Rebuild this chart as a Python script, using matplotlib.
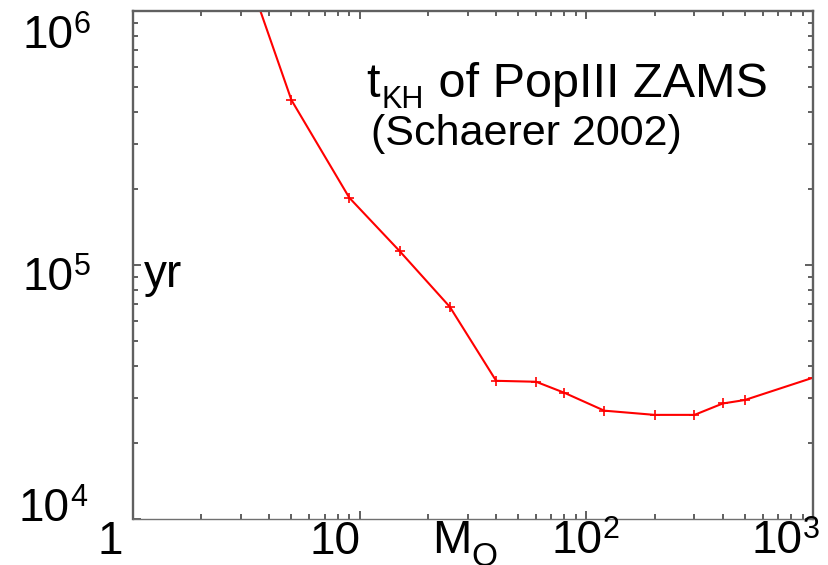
import matplotlib
matplotlib.use("Agg")
import matplotlib.pyplot as plt

plt.rcParams['font.family'] = ['Liberation Sans', 'DejaVu Sans']

# Kelvin-Helmholtz time of Pop III ZAMS stars (Schaerer 2002)
mass = [3, 5, 9, 15, 25, 40, 60, 80, 120, 200, 300, 400, 500, 1000]
t_kh = [1.65e6, 4.46e5, 1.84e5, 1.135e5, 6.84e4, 3.50e4, 3.47e4, 3.14e4,
        2.67e4, 2.57e4, 2.57e4, 2.85e4, 2.94e4, 3.60e4]

W, H = 829, 565
fig = plt.figure(figsize=(W / 100, H / 100), dpi=100)
ax = fig.add_axes([133 / W, 1 - 519 / H, 680 / W, 508 / H])

ax.plot(mass, t_kh, color='#ff0000', lw=1.5, marker='+', ms=7, mew=1.2)

ax.set_xscale('log')
ax.set_yscale('log')
ax.set_xlim(1, 1000)
ax.set_ylim(1e4, 1e6)

ax.tick_params(which='both', direction='in', top=True, right=True,
               labelbottom=False, labelleft=False, color='#444444', width=1.2)
ax.tick_params(which='major', length=6)
ax.tick_params(which='minor', length=3.5)
for side in ['left', 'right', 'top']:
    ax.spines[side].set_linewidth(1.7)
    ax.spines[side].set_color('#606060')
ax.spines['bottom'].set_linewidth(1.0)
ax.spines['bottom'].set_color('#707070')


def put(x, y, s, size):
    # x, y in pixels from the top-left corner, y is the baseline
    fig.text(x / W, 1 - y / H, s, fontsize=size, ha='left', va='baseline')


def power(x, y, exp):
    put(x, y, '10', 33)
    put(x + 2 * 0.556 * 33 * 100 / 72, y - 15, exp, 22)


# y tick labels
power(23, 48, '6')
power(23, 290, '5')
power(19, 521, '4')

# x tick labels
put(98, 554, '1', 33)
put(310, 554, '10', 33)
power(552, 553, '2')
power(752, 553, '3')

# axis units
put(144, 287, 'yr', 33)
put(432, 553, 'M', 34)
put(471, 566, 'O', 24)

# title inside the panel
put(366, 97, 't', 35)
put(382, 108, 'KH', 22)
put(425, 97, ' of PopIII ZAMS', 35)
put(371, 145, '(Schaerer 2002)', 31)

fig.savefig('out.png', dpi=100)
